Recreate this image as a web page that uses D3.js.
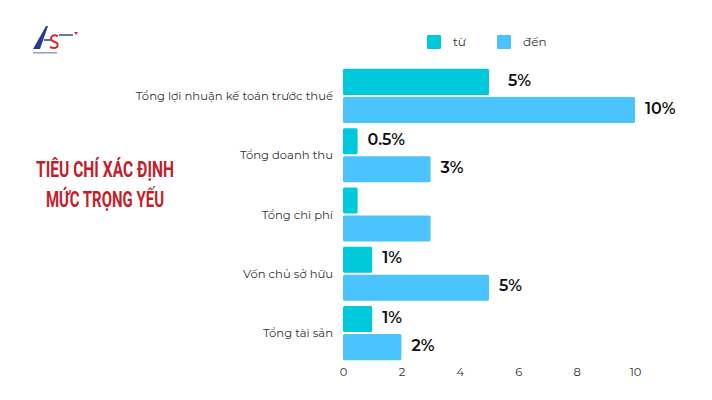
<!DOCTYPE html>
<html><head><meta charset="utf-8">
<script src="https://cdn.jsdelivr.net/npm/d3@7"></script>
<style>body{margin:0;background:#fff}svg{display:block}</style>
</head><body>
<script>
const categories = ["Tổng lợi nhuận kế toán trước thuế","Tổng doanh thu","Tổng chi phí","Vốn chủ sở hữu","Tổng tài sản"];
const seriesNames = ["từ","đến"];
const fromValues = [5,0.5,0.5,1,1];
const toValues = [10,3,3,5,2];
const fromLabels = ["5%","0.5%","","1%","1%"];
const toLabels = ["10%","3%","","5%","2%"];
const xTicks = [0,2,4,6,8,10];
const titleLines = ["TIÊU CHÍ XÁC ĐỊNH","MỨC TRỌNG YẾU"];

const W=712,H=400;
const colors=["#00C9DB","#4AC3FE"];
const svg=d3.select("body").append("svg").attr("width",W).attr("height",H);
const font="Montserrat, 'Noto Sans', 'Open Sans', sans-serif";

const x=d3.scaleLinear().domain([0,10]).range([343,635]);
const y=d3.scaleBand().domain(categories).range([66.5,362.5]).paddingInner(0.085).paddingOuter(0.04);
const ys=d3.scaleBand().domain([0,1]).range([0,y.bandwidth()]).paddingInner(0.07);

const g=svg.append("g");
categories.forEach((c,i)=>{
  const vals=[fromValues[i],toValues[i]];
  const labs=[fromLabels[i],toLabels[i]];
  vals.forEach((v,j)=>{
    g.append("rect").attr("x",x(0)).attr("y",y(c)+ys(j))
     .attr("width",x(v)-x(0)).attr("height",ys.bandwidth())
     .attr("rx",1.5).attr("fill",colors[j]);
    if(labs[j]) g.append("text").attr("x",x(v)+(j===0&&v>=5?19:10)).attr("y",y(c)+ys(j)+ys.bandwidth()/2-2)
      .attr("dy","0.35em").attr("font-family",font).attr("font-weight",600)
      .attr("font-size",16).attr("fill","#111").text(labs[j]);
  });
  g.append("text").attr("x",333).attr("y",y(c)+y.bandwidth()/2).attr("dy","0.35em")
   .attr("text-anchor","end").attr("font-family",font).attr("font-size",11.6).attr("fill","#333").text(c);
});

const ax=svg.append("g").attr("transform","translate(0,362)")
  .call(d3.axisBottom(x).tickValues(xTicks).tickSize(0).tickPadding(6));
ax.select(".domain").remove();
ax.selectAll("text").attr("font-family",font).attr("font-size",11.5).attr("fill","#333");

// legend
const lx=[427,497];
seriesNames.forEach((s,i)=>{
  svg.append("rect").attr("x",lx[i]).attr("y",35).attr("width",14).attr("height",14).attr("rx",1).attr("fill",colors[i]);
  svg.append("text").attr("x",lx[i]+26).attr("y",42).attr("dy","0.35em").attr("font-family",font)
    .attr("font-size",12).attr("fill","#333").text(s);
});

// title
const tw=[138,118];
titleLines.forEach((t,i)=>{
  svg.append("text").attr("x",105).attr("y",177+i*30).attr("text-anchor","middle")
   .attr("font-family","'Roboto','Liberation Sans',sans-serif")
   .attr("font-weight",700).attr("font-size",22)
   .attr("textLength",tw[i]).attr("lengthAdjust","spacingAndGlyphs")
   .attr("fill","#C41E2A").text(t);
});

// logo
const lg=svg.append("g");
lg.append("path").attr("d","M33,49 L46,26 L48,26 L40,49 Z").attr("fill","#2A3A8F");
lg.append("path").attr("d","M44,40 L52,40").attr("stroke","#2A3A8F").attr("stroke-width",1.5);
lg.append("path").attr("d","M58,36 Q52,34 51,38 Q51,41 55,42 Q59,43 57,47 Q54,49 50,47")
  .attr("fill","none").attr("stroke","#D7262E").attr("stroke-width",2);
lg.append("rect").attr("x",59).attr("y",34).attr("width",14).attr("height",2).attr("fill","#2A3A8F").attr("opacity",0.7);
lg.append("path").attr("d","M74,32 L78,32 L76,35 Z").attr("fill","#D7262E");
lg.append("rect").attr("x",33).attr("y",52).attr("width",24).attr("height",1.5).attr("fill","#2A3A8F").attr("opacity",0.5);
</script>
</body></html>
